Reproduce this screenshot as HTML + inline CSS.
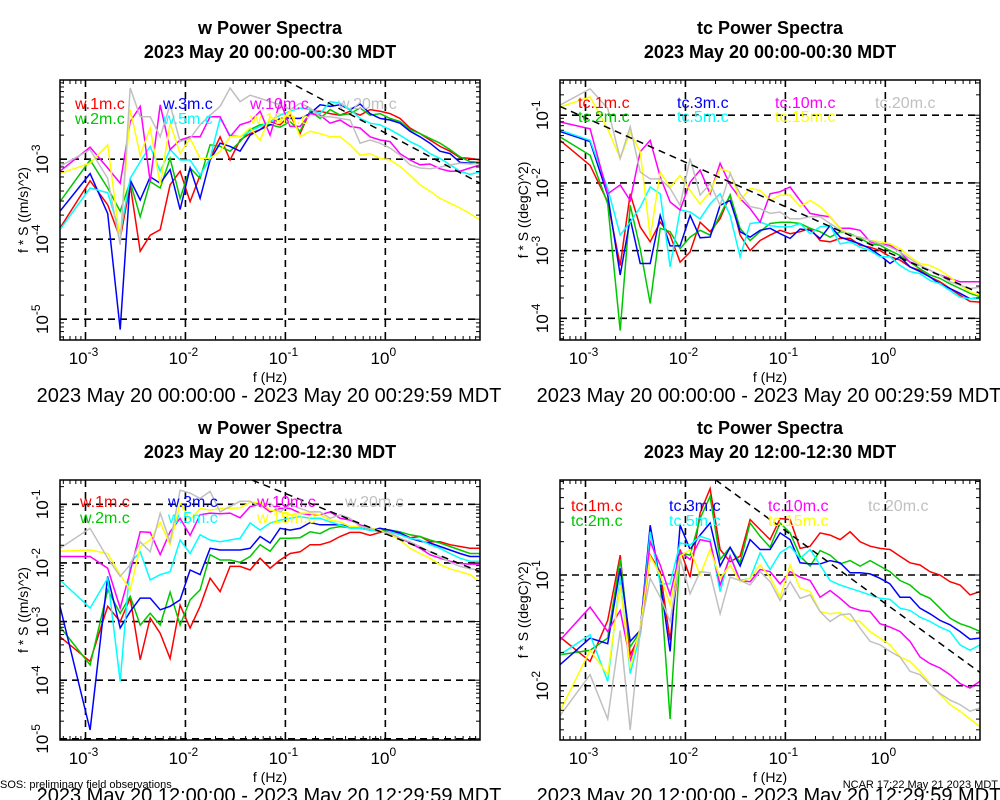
<!DOCTYPE html>
<html><head><meta charset="utf-8"><style>
body{margin:0;background:#fff}
svg{display:block;font-family:"Liberation Sans",sans-serif}
</style></head><body>
<svg id="chart" width="1000" height="800" viewBox="0 0 1000 800" xmlns="http://www.w3.org/2000/svg">
<rect width="1000" height="800" fill="#fff"/>
<text x="0" y="788" font-size="11">SOS: preliminary field observations</text>
<text x="998" y="788" font-size="11" text-anchor="end">NCAR 17:22 May 21 2023 MDT</text>
</svg>
<script>
// log10 frequency (Hz) of each spectral point
const freqLog = [-3.255,-2.954,-2.778,-2.653,-2.553,-2.453,-2.353,-2.253,-2.153,-2.053,-1.953,-1.853,-1.753,-1.653,-1.553,-1.453,-1.353,-1.253,-1.153,-1.053,-0.953,-0.853,-0.753,-0.653,-0.553,-0.453,-0.353,-0.253,-0.153,-0.053,0.047,0.147,0.247,0.347,0.447,0.547,0.647,0.747,0.847,0.947];
const heights = ["1m","2m","3m","5m","10m","15m","20m"];
// Panel 1: w, 00:00-00:30 (log10 of f*S)
const w1_1m=[-3.86,-3.27,-3.57,-3.99,-3.32,-4.15,-3.95,-3.88,-3.32,-3.15,-3.53,-3.2,-2.99,-2.72,-3.01,-2.76,-2.68,-2.63,-2.53,-2.57,-2.45,-2.68,-2.4,-2.4,-2.43,-2.45,-2.4,-2.45,-2.38,-2.4,-2.43,-2.49,-2.61,-2.68,-2.76,-2.84,-2.9,-2.98,-2.99,-3.01];
const w1_2m=[-3.53,-3.01,-3.36,-3.65,-3.28,-3.72,-3.28,-3.36,-2.99,-3.49,-3.11,-3.24,-2.82,-2.84,-2.9,-2.78,-2.63,-2.57,-2.57,-2.6,-2.53,-2.65,-2.4,-2.49,-2.38,-2.45,-2.43,-2.36,-2.45,-2.43,-2.49,-2.53,-2.63,-2.68,-2.74,-2.8,-2.88,-2.97,-3.03,-3.04];
const w1_3m=[-3.65,-3.18,-3.68,-5.13,-3.26,-3.51,-3.22,-3.3,-3.13,-3.63,-3.11,-3.49,-3.01,-2.8,-2.84,-2.9,-2.7,-2.63,-2.57,-2.49,-2.49,-2.49,-2.43,-2.32,-2.34,-2.32,-2.38,-2.31,-2.43,-2.49,-2.51,-2.55,-2.65,-2.72,-2.8,-2.9,-2.93,-3.04,-3.05,-3.05];
const w1_5m=[-3.88,-3.36,-3.42,-3.93,-3.24,-3.03,-2.84,-3.15,-2.88,-3.01,-3.01,-3.2,-2.99,-2.49,-2.7,-2.72,-2.65,-2.59,-2.53,-2.45,-2.4,-2.36,-2.38,-2.43,-2.28,-2.3,-2.38,-2.49,-2.55,-2.57,-2.63,-2.7,-2.78,-2.84,-2.93,-2.99,-3.07,-3.15,-3.19,-3.16];
const w1_10m=[-3.15,-2.85,-3.11,-3.3,-2.53,-2.34,-3.28,-2.32,-2.88,-2.76,-2.72,-2.72,-2.47,-2.47,-2.72,-2.57,-2.53,-2.4,-2.7,-2.28,-2.59,-2.59,-2.43,-2.45,-2.55,-2.51,-2.59,-2.61,-2.72,-2.76,-2.78,-2.93,-3.01,-3.07,-3.06,-3.12,-3.15,-3.15,-3.11,-3.07];
const w1_15m=[-3.18,-3.05,-2.82,-4.03,-2.38,-2.95,-2.61,-3.32,-2.55,-2.93,-2.74,-2.99,-2.99,-2.9,-2.72,-2.72,-2.61,-2.76,-2.47,-2.53,-2.4,-2.72,-2.65,-2.68,-2.72,-2.72,-2.82,-2.95,-2.93,-2.99,-3.01,-3.09,-3.2,-3.32,-3.4,-3.49,-3.55,-3.61,-3.68,-3.76];
const w1_20m=[-3.09,-2.88,-3.24,-4.07,-2.11,-2.47,-2.47,-2.72,-2.32,-2.78,-2.74,-2.57,-2.45,-2.34,-2.11,-2.28,-2.2,-2.24,-2.28,-2.32,-2.38,-2.3,-2.36,-2.47,-2.47,-2.49,-2.51,-2.8,-2.76,-2.8,-2.86,-2.95,-3.07,-3.11,-3.12,-3.1,-3.07,-3.05,-3.06,-3.05];
// Panel 2: tc, 00:00-00:30
const t1_1m=[-1.37,-1.74,-2.28,-3.22,-2.16,-2.65,-2.87,-2.58,-2.77,-3.17,-3.02,-2.58,-2.72,-2.53,-2.18,-2.77,-3.0,-2.85,-2.77,-2.7,-2.75,-2.72,-2.67,-2.85,-2.87,-2.82,-2.82,-2.92,-2.95,-3.0,-3.09,-3.14,-3.24,-3.29,-3.39,-3.46,-3.56,-3.66,-3.75,-3.76];
const t1_2m=[-1.32,-1.59,-2.31,-4.18,-2.33,-2.97,-3.78,-2.67,-2.72,-2.97,-2.8,-2.7,-2.77,-2.48,-2.18,-2.67,-2.85,-2.72,-2.6,-2.58,-2.58,-2.6,-2.67,-2.72,-2.8,-2.72,-2.75,-2.82,-2.9,-2.92,-3.0,-3.07,-3.17,-3.27,-3.36,-3.41,-3.49,-3.56,-3.63,-3.68];
const t1_3m=[-1.24,-1.39,-2.18,-3.36,-2.53,-3.19,-3.19,-2.48,-2.93,-2.93,-2.48,-2.81,-2.8,-2.33,-2.26,-2.72,-2.8,-2.7,-2.67,-2.75,-2.82,-2.68,-2.7,-2.82,-2.63,-2.8,-2.85,-2.9,-2.97,-3.07,-3.19,-3.09,-3.24,-3.31,-3.39,-3.49,-3.56,-3.63,-3.71,-3.7];
const t1_5m=[-1.22,-1.37,-2.08,-2.77,-2.58,-2.36,-2.06,-2.16,-3.24,-2.4,-2.43,-2.53,-2.31,-2.16,-2.48,-3.09,-2.6,-2.58,-2.63,-2.65,-2.65,-2.6,-2.75,-2.65,-2.63,-2.9,-2.87,-2.95,-3.0,-3.09,-3.09,-3.22,-3.31,-3.34,-3.44,-3.49,-3.59,-3.69,-3.71,-3.71];
const t1_10m=[-1.1,-1.2,-2.16,-2.03,-2.26,-1.54,-1.37,-1.91,-2.28,-2.4,-1.99,-1.81,-2.16,-1.71,-2.03,-2.23,-2.38,-2.58,-2.16,-2.13,-2.06,-2.26,-2.45,-2.48,-2.5,-2.67,-2.67,-2.7,-2.87,-2.9,-2.92,-3.02,-3.17,-3.22,-3.29,-3.36,-3.41,-3.46,-3.46,-3.46];
const t1_15m=[-0.88,-0.73,-1.2,-1.64,-1.25,-1.54,-2.8,-1.84,-2.06,-1.89,-2.11,-2.31,-2.13,-1.79,-1.84,-2.26,-2.08,-2.11,-2.26,-2.18,-2.18,-2.35,-2.26,-2.35,-2.5,-2.67,-2.77,-2.8,-2.85,-2.87,-2.9,-2.97,-3.09,-3.19,-3.22,-3.29,-3.39,-3.51,-3.61,-3.66];
const t1_20m=[-0.85,-0.61,-0.9,-1.64,-1.17,-1.84,-1.94,-1.94,-2.08,-2.33,-1.64,-2.18,-2.01,-2.33,-1.86,-2.16,-2.35,-2.38,-2.45,-2.43,-2.53,-2.53,-2.5,-2.5,-2.6,-2.7,-2.77,-2.8,-2.85,-2.9,-2.95,-3.02,-3.12,-3.22,-3.29,-3.36,-3.46,-3.51,-3.56,-3.54];
// Panel 3: w, 12:00-12:30
const w2_1m=[-3.26,-3.68,-2.74,-3.0,-2.6,-3.65,-2.94,-3.2,-3.63,-2.72,-3.11,-2.74,-2.26,-2.49,-2.06,-2.06,-2.12,-1.92,-2.09,-1.95,-1.84,-1.81,-1.69,-1.69,-1.64,-1.55,-1.48,-1.48,-1.53,-1.48,-1.47,-1.49,-1.57,-1.55,-1.64,-1.64,-1.69,-1.72,-1.75,-1.75];
const w2_2m=[-3.09,-3.74,-2.46,-2.86,-2.57,-3.06,-2.86,-3.06,-2.5,-3.06,-2.63,-2.46,-1.86,-1.95,-1.95,-1.99,-1.89,-1.69,-1.8,-1.58,-1.58,-1.57,-1.47,-1.5,-1.41,-1.38,-1.4,-1.4,-1.41,-1.44,-1.44,-1.47,-1.52,-1.55,-1.61,-1.66,-1.72,-1.78,-1.84,-1.84];
const w2_3m=[-2.74,-4.85,-2.23,-3.11,-2.83,-2.6,-2.6,-2.8,-2.74,-2.63,-2.12,-2.2,-1.75,-1.78,-1.78,-1.78,-1.75,-1.55,-1.66,-1.41,-1.44,-1.41,-1.31,-1.35,-1.35,-1.35,-1.38,-1.41,-1.44,-1.41,-1.44,-1.49,-1.58,-1.63,-1.66,-1.72,-1.78,-1.84,-1.89,-1.89];
const w2_5m=[-2.29,-2.77,-2.26,-4.02,-2.0,-1.81,-2.29,-2.2,-2.15,-1.61,-1.84,-1.52,-1.61,-1.64,-1.61,-1.58,-1.32,-1.44,-1.32,-1.27,-1.24,-1.21,-1.24,-1.24,-1.3,-1.35,-1.41,-1.41,-1.44,-1.47,-1.47,-1.52,-1.58,-1.61,-1.69,-1.75,-1.84,-1.92,-1.97,-1.97];
const w2_10m=[-1.89,-1.89,-2.09,-2.77,-2.15,-1.47,-1.48,-1.86,-1.47,-1.24,-1.53,-1.18,-1.15,-1.16,-1.15,-1.23,-1.04,-1.0,-1.13,-1.07,-1.07,-1.15,-1.18,-1.18,-1.13,-1.24,-1.27,-1.35,-1.41,-1.45,-1.49,-1.58,-1.66,-1.75,-1.86,-1.92,-1.97,-2.01,-2.02,-2.02];
const w2_15m=[-1.8,-1.78,-1.84,-2.2,-2.46,-1.72,-1.61,-1.31,-1.69,-0.98,-1.27,-1.07,-1.1,-1.07,-1.07,-1.06,-0.97,-0.97,-1.1,-1.13,-1.18,-1.15,-1.15,-1.18,-1.27,-1.3,-1.38,-1.38,-1.41,-1.44,-1.52,-1.61,-1.75,-1.84,-1.92,-2.03,-2.1,-2.15,-2.2,-2.32];
const w2_20m=[-1.75,-1.41,-1.92,-2.23,-2.03,-1.64,-1.81,-1.15,-1.64,-0.76,-0.81,-0.9,-0.78,-1.13,-1.04,-0.95,-0.95,-1.04,-0.98,-1.13,-1.01,-1.07,-1.13,-1.13,-1.24,-1.18,-1.24,-1.38,-1.41,-1.47,-1.49,-1.58,-1.64,-1.72,-1.81,-1.89,-1.99,-2.06,-2.1,-2.12];
// Panel 4: tc, 12:00-12:30
const t2_1m=[-1.56,-1.78,-1.41,-0.82,-1.72,-1.54,-0.82,-0.97,-1.59,-0.77,-1.02,-0.44,-0.22,-0.77,-0.88,-0.83,-0.5,-0.59,-0.68,-0.49,-0.5,-0.76,-0.74,-0.62,-0.64,-0.68,-0.61,-0.7,-0.74,-0.76,-0.77,-0.83,-0.89,-0.91,-0.97,-1.0,-1.06,-1.09,-1.18,-1.15];
const t2_2m=[-1.72,-1.68,-1.57,-0.86,-1.65,-1.51,-0.6,-1.06,-2.3,-0.8,-0.82,-0.49,-0.29,-0.86,-0.75,-0.89,-0.53,-0.65,-0.75,-0.53,-0.62,-0.83,-0.92,-0.78,-0.82,-0.9,-0.87,-0.92,-0.87,-0.92,-0.97,-1.05,-1.09,-1.17,-1.21,-1.3,-1.39,-1.44,-1.47,-1.51];
const t2_3m=[-1.81,-1.57,-1.62,-0.94,-1.6,-1.5,-0.55,-1.06,-1.69,-0.55,-0.77,-0.64,-0.53,-0.92,-0.75,-0.92,-0.68,-0.77,-0.77,-0.62,-0.68,-0.89,-0.9,-0.9,-0.87,-0.89,-0.98,-0.98,-0.99,-1.03,-1.08,-1.2,-1.2,-1.3,-1.35,-1.41,-1.45,-1.51,-1.58,-1.57];
const t2_5m=[-1.72,-1.54,-1.96,-1.03,-1.89,-1.54,-0.61,-1.08,-1.08,-0.71,-0.73,-0.65,-0.68,-1.15,-0.82,-1.05,-1.03,-0.8,-0.95,-0.8,-0.74,-0.85,-0.77,-0.91,-1.05,-1.09,-1.12,-1.15,-1.18,-1.21,-1.22,-1.3,-1.32,-1.38,-1.42,-1.47,-1.51,-1.63,-1.68,-1.63];
const t2_10m=[-1.59,-1.29,-1.51,-1.32,-1.77,-1.51,-0.7,-0.91,-1.18,-0.79,-0.86,-0.68,-0.7,-1.09,-0.83,-1.05,-1.06,-0.95,-0.97,-1.08,-0.97,-1.02,-1.05,-1.2,-1.14,-1.21,-1.29,-1.32,-1.33,-1.44,-1.47,-1.51,-1.6,-1.74,-1.8,-1.84,-1.9,-1.98,-2.02,-1.96];
const t2_15m=[-2.23,-1.68,-1.9,-1.09,-1.84,-1.48,-0.83,-1.0,-1.27,-0.83,-0.77,-1.0,-0.77,-1.03,-0.91,-1.06,-1.03,-0.91,-1.02,-1.2,-0.91,-1.12,-1.15,-1.33,-1.35,-1.34,-1.41,-1.42,-1.51,-1.57,-1.63,-1.74,-1.78,-1.87,-1.98,-2.08,-2.17,-2.23,-2.3,-2.37];
const t2_20m=[-2.27,-1.9,-2.3,-1.5,-2.4,-1.5,-1.03,-1.2,-1.42,-0.85,-1.17,-0.97,-0.98,-1.35,-1.02,-1.05,-1.09,-0.97,-1.06,-1.23,-1.06,-1.21,-1.18,-1.33,-1.42,-1.36,-1.35,-1.48,-1.6,-1.63,-1.69,-1.74,-1.87,-1.9,-1.99,-2.07,-2.13,-2.17,-2.23,-2.2];
// reference slope lines [logf0, logS0, logf1, logS1]
const ref1=[-1.0,-2.01,0.947,-3.3];
const ref2=[-3.255,-0.87,0.947,-3.63];
const ref3=[-1.33,-0.59,0.947,-2.15];
const ref4=[-1.7,-0.14,0.947,-1.88];
const xTickLabels=["-3","-2","-1","0"];

const colors=["#ff0000","#00c800","#0000ff","#00ffff","#ff00ff","#ffff00","#c0c0c0"];
const NS="http://www.w3.org/2000/svg";
const svg=document.getElementById('chart');
function mk(tag,attrs,parent){const e=document.createElementNS(NS,tag);for(const k in attrs)e.setAttribute(k,attrs[k]);(parent||svg).appendChild(e);return e;}

const panels=[
 {id:"w-early",ox:0,oy:0,ymin:-5.26,ymax:-2.01,series:[w1_1m,w1_2m,w1_3m,w1_5m,w1_10m,w1_15m,w1_20m],pre:"w.",ref:ref1,yl:"f * S ((m/s)^2)",t1:"w Power Spectra",t2:"2023 May 20 00:00-00:30 MDT",d:"2023 May 20 00:00:00 - 2023 May 20 00:29:59 MDT",lx:[75,163,250,338],ly:[109,124]},
 {id:"tc-early",ox:500,oy:0,ymin:-4.32,ymax:-0.48,series:[t1_1m,t1_2m,t1_3m,t1_5m,t1_10m,t1_15m,t1_20m],pre:"tc.",ref:ref2,yl:"f * S ((degC)^2)",t1:"tc Power Spectra",t2:"2023 May 20 00:00-00:30 MDT",d:"2023 May 20 00:00:00 - 2023 May 20 00:29:59 MDT",lx:[578,677,775,875],ly:[108,122]},
 {id:"w-noon",ox:0,oy:400,ymin:-5.02,ymax:-0.586,series:[w2_1m,w2_2m,w2_3m,w2_5m,w2_10m,w2_15m,w2_20m],pre:"w.",ref:ref3,yl:"f * S ((m/s)^2)",t1:"w Power Spectra",t2:"2023 May 20 12:00-12:30 MDT",d:"2023 May 20 12:00:00 - 2023 May 20 12:29:59 MDT",lx:[80,168,257,345],ly:[507,523]},
 {id:"tc-noon",ox:500,oy:400,ymin:-2.49,ymax:-0.142,series:[t2_1m,t2_2m,t2_3m,t2_5m,t2_10m,t2_15m,t2_20m],pre:"tc.",ref:ref4,yl:"f * S ((degC)^2)",t1:"tc Power Spectra",t2:"2023 May 20 12:00-12:30 MDT",d:"2023 May 20 12:00:00 - 2023 May 20 12:29:59 MDT",lx:[571,669,768,868],ly:[511,526]}
];

panels.forEach((p,pi)=>{
 const x0=60+p.ox,x1=480+p.ox,y0=80+p.oy,y1=340+p.oy;
 const fmin=-3.255,fmax=0.947;
 const X=lf=>x0+(lf-fmin)/(fmax-fmin)*(x1-x0);
 const Y=ls=>y1-(ls-p.ymin)/(p.ymax-p.ymin)*(y1-y0);
 const g=mk('g',{});
 
 
 const cid='clip'+pi;
 const cp=mk('clipPath',{id:cid},g);mk('rect',{x:x0,y:y0,width:x1-x0,height:y1-y0},cp);
 const tcx=270+p.ox;
 let t=mk('text',{x:tcx,y:34+p.oy,'font-size':18,'font-weight':'bold','text-anchor':'middle'},g);t.textContent=p.t1;
 
 
 t=mk('text',{x:tcx,y:58+p.oy,'font-size':18,'font-weight':'bold','text-anchor':'middle'},g);t.textContent=p.t2;
 
 
 const grid=mk('g',{stroke:'#000','stroke-width':1.6,'stroke-dasharray':'7,5',fill:'none'},g);
 
 
 for(let d=-3;d<=0;d++)mk('line',{x1:X(d),x2:X(d),y1:y0,y2:y1},grid);
 for(let d=Math.ceil(p.ymin);d<=Math.floor(p.ymax);d++)mk('line',{x1:x0,x2:x1,y1:Y(d),y2:Y(d)},grid);
 const sg=mk('g',{'clip-path':'url(#'+cid+')',fill:'none','stroke-width':1.5},g);
 p.series.forEach((s,si)=>{
  const pts=s.map((v,i)=>X(freqLog[i]).toFixed(1)+','+Y(v).toFixed(1)).join(' ');
  const pl=mk('polyline',{points:pts,stroke:colors[si]},sg);
  
  
 });
 const r=p.ref;
 const rl=mk('line',{x1:X(r[0]),y1:Y(r[1]),x2:X(r[2]),y2:Y(r[3]),stroke:'#000','stroke-width':1.5,'stroke-dasharray':'7,5'},sg);
 
 
 heights.forEach((h,si)=>{
  const lt=mk('text',{x:p.lx[Math.floor(si/2)],y:p.ly[si%2],'font-size':16,fill:colors[si]},g);
  lt.textContent=p.pre+h+'.c';
  
  
 });
 const fr=mk('rect',{x:x0,y:y0,width:x1-x0,height:y1-y0,fill:'none',stroke:'#000','stroke-width':1.5},g);
 
 
 const tk=mk('g',{stroke:'#000','stroke-width':1},g);
 for(let d=-4;d<=0;d++)for(let m=1;m<10;m++){const lf=d+Math.log10(m);if(lf<fmin||lf>fmax)continue;const L=m==1?7:4;
  mk('line',{x1:X(lf),x2:X(lf),y1:y1,y2:y1-L},tk);mk('line',{x1:X(lf),x2:X(lf),y1:y0,y2:y0+L},tk);}
 for(let d=Math.floor(p.ymin);d<=Math.ceil(p.ymax);d++)for(let m=1;m<10;m++){const ls=d+Math.log10(m);if(ls<p.ymin||ls>p.ymax)continue;const L=m==1?7:4;
  mk('line',{x1:x0,x2:x0+L,y1:Y(ls),y2:Y(ls)},tk);mk('line',{x1:x1,x2:x1-L,y1:Y(ls),y2:Y(ls)},tk);}
 xTickLabels.forEach((e,i)=>{
  const xt=mk('text',{x:X(-3+i)-2,y:y1+24,'font-size':17,'text-anchor':'middle'},g);
  
  
  xt.appendChild(document.createTextNode('10'));
  const sp=mk('tspan',{dy:-8,'font-size':12},xt);sp.textContent=e;
 });
 for(let d=Math.ceil(p.ymin);d<=Math.floor(p.ymax);d++){
  const yy=Y(d),xx=x0-12;
  const yt=mk('text',{x:xx,y:yy,'font-size':17,'text-anchor':'middle',transform:'rotate(-90 '+xx+' '+yy+')'},g);
  
  
  yt.appendChild(document.createTextNode('10'));
  const sp=mk('tspan',{dy:-8,'font-size':12},yt);sp.textContent=String(d);
 }
 const xt=mk('text',{x:tcx,y:y1+42,'font-size':14,'text-anchor':'middle'},g);xt.textContent='f (Hz)';
 
 
 const ay=(y0+y1)/2,ax=28+p.ox;
 const yat=mk('text',{x:ax,y:ay,'font-size':14,'text-anchor':'middle',transform:'rotate(-90 '+ax+' '+ay+')'},g);yat.textContent=p.yl;
 
 
 const dt=mk('text',{x:tcx-1,y:y1+62,'font-size':20,'text-anchor':'middle'},g);dt.textContent=p.d;
 
 
});
</script>
</body></html>
